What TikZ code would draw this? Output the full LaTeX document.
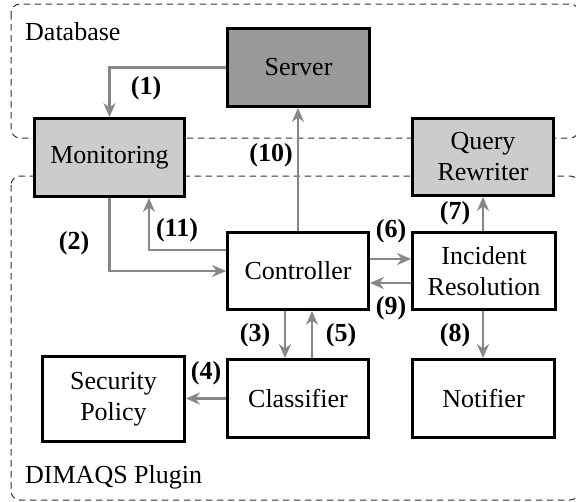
\documentclass[tikz,border=0pt]{standalone}
\usepackage{fontspec}
\newfontfamily\tnr{Liberation Serif}
\usetikzlibrary{arrows.meta}
\begin{document}
\begin{tikzpicture}[x=1pt,y=-1pt,
 box/.style={draw=black,line width=2.8pt,inner sep=0pt,align=center,font=\tnr\fontsize{26}{31}\selectfont},
 arr/.style={draw=black!47,line width=2.2pt,-{Stealth[length=14pt,width=12pt,inset=4.5pt]}},
 lbl/.style={font=\tnr\fontsize{26}{31}\selectfont\bfseries,inner sep=0pt},
 regionlbl/.style={font=\tnr\fontsize{26}{31}\selectfont,inner sep=0pt,anchor=west},
 region/.style={draw=black!80,line width=1pt,dash pattern=on 6.5pt off 4.5pt,rounded corners=9pt}]
\useasboundingbox (0,0) rectangle (576,501);
\draw[region] (11,4) rectangle (579,138);
\draw[region] (11,176) rectangle (579,500);
\node[regionlbl] (dblbl) at (25,32) {Database};
\node[regionlbl] (pluginlbl) at (25,477) {DIMAQS Plugin};
% boxes
\node[box,fill=black!40,minimum width=142pt,minimum height=78pt] (server) at (298.5,67.5) {Server};
\node[box,fill=black!20,minimum width=150pt,minimum height=78pt] (mon) at (109.5,157.5) {Monitoring};
\node[box,fill=black!20,minimum width=141pt,minimum height=77pt] (qr) at (483,157) {Query\\Rewriter};
\node[box,fill=white,minimum width=141pt,minimum height=77pt] (ctrl) at (298,271) {Controller};
\node[box,fill=white,minimum width=143pt,minimum height=77pt] (inc) at (484,271) {Incident\\Resolution};
\node[box,fill=white,minimum width=142pt,minimum height=85pt] (sec) at (113.5,399) {Security\\Policy};
\node[box,fill=white,minimum width=141pt,minimum height=78pt] (cls) at (298,398.5) {Classifier};
\node[box,fill=white,minimum width=142pt,minimum height=78pt] (noti) at (483.5,398.5) {Notifier};
% connectors
\draw[arr] (server.west) -| (mon.north);
\draw[arr] (mon.south) |- (ctrl.west);
\draw[arr] ([yshift=21pt]ctrl.west) -| ([xshift=39.5pt]mon.south);
\draw[arr] (ctrl.north) -- (ctrl.north |- server.south);
\draw[arr] ([yshift=12pt]ctrl.east) -- ([yshift=12pt]ctrl.east -| inc.west);
\draw[arr] ([yshift=-12pt]inc.west) -- ([yshift=-12pt]inc.west -| ctrl.east);
\draw[arr] ([xshift=-1pt]inc.north) -- ([xshift=-1pt]inc.north |- qr.south);
\draw[arr] ([xshift=-1pt]inc.south) -- ([xshift=-1pt]inc.south |- noti.north);
\draw[arr] ([xshift=-13pt]ctrl.south) -- ([xshift=-13pt]ctrl.south |- cls.north);
\draw[arr] ([xshift=14pt]cls.north) -- ([xshift=14pt]cls.north |- ctrl.south);
\draw[arr] (cls.west) -- (cls.west -| sec.east);
% labels
\node[lbl] (l1) at (146,88) {(1)};
\node[lbl] (l2) at (74,243) {(2)};
\node[lbl] (l3) at (255,335) {(3)};
\node[lbl] (l4) at (206,373) {(4)};
\node[lbl] (l5) at (341,335) {(5)};
\node[lbl] (l6) at (391,231) {(6)};
\node[lbl] (l7) at (455,213) {(7)};
\node[lbl] (l8) at (455,335) {(8)};
\node[lbl] (l9) at (391,308) {(9)};
\node[lbl] (l10) at (271,155) {(10)};
\node[lbl] (l11) at (177,230) {(11)};
\end{tikzpicture}
\end{document}
